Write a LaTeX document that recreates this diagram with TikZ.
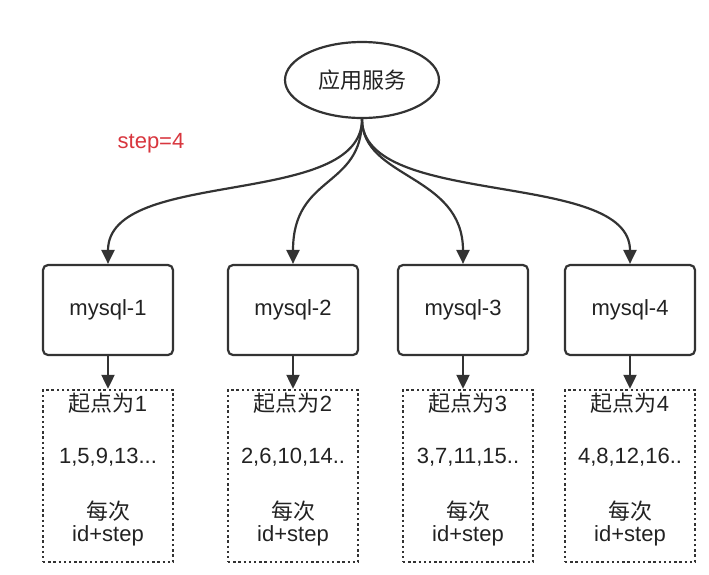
\documentclass[tikz,border=0pt]{standalone}
\usepackage{fontspec}
\setmainfont{Liberation Sans}
\newfontfamily\cjk{Noto Sans CJK SC}
\usetikzlibrary{arrows.meta,shapes.geometric}
\definecolor{ln}{HTML}{333333}
\definecolor{txt}{HTML}{222222}
\definecolor{redtxt}{HTML}{D8363E}
\begin{document}
\begin{tikzpicture}[x=1pt,y=-1pt,
  every node/.style={font=\fontsize{22}{26}\selectfont, text=txt},
  appnode/.style={ellipse, draw=ln, line width=2.2pt, minimum width=154pt, minimum height=76pt, inner sep=0pt},
  dbbox/.style={draw=ln, line width=2.2pt, rounded corners=5pt, minimum width=130pt, minimum height=90pt, inner sep=0pt},
  seqbox/.style={draw=ln, line width=2.4pt, dash pattern=on 2.4pt off 2.8pt, minimum width=130pt, minimum height=172pt, inner sep=0pt},
  conn/.style={draw=ln, line width=2.2pt, -{Triangle[length=14pt,width=13pt]}},
  steplabel/.style={text=redtxt},
]
\useasboundingbox (0,0) rectangle (709,574);
\node[appnode] (app) at (362,80) {\cjk 应用服务};
\node[steplabel] (steptxt) at (151,143) {step=4};

\node[dbbox] (m1) at (108,310) {mysql-1};
\node[dbbox] (m2) at (293,310) {mysql-2};
\node[dbbox] (m3) at (463,310) {mysql-3};
\node[dbbox] (m4) at (630,310) {mysql-4};

\node[seqbox] (d1) at (108,476) {};
\node[seqbox] (d2) at (293,476) {};
\node[seqbox] (d3) at (468,476) {};
\node[seqbox] (d4) at (630,476) {};

\foreach \i/\seq in {1/{1,5,9,13...},2/{2,6,10,14..},3/{3,7,11,15..},4/{4,8,12,16..}}{
  \node (s\i) at ([yshift=-14pt]d\i.north) {{\cjk 起点为}\i};
  \node (q\i) at ([yshift=-68pt]d\i.north) {\seq};
  \node (e\i) at ([yshift=-122pt]d\i.north) {\cjk 每次};
  \node (f\i) at ([yshift=-147pt]d\i.north) {id+step};
  \draw[conn] (m\i.south) -- (m\i.south |- d\i.north);
}

\draw[conn] (app.south) .. controls +(0,90) and +(0,-97) .. (m1.north);
\draw[conn] (app.south) .. controls +(0,70) and +(0,-90) .. (m2.north);
\draw[conn] (app.south) .. controls +(0,60) and +(0,-90) .. (m3.north);
\draw[conn] (app.south) .. controls +(0,90) and +(0,-95) .. (m4.north);
\end{tikzpicture}
\end{document}
